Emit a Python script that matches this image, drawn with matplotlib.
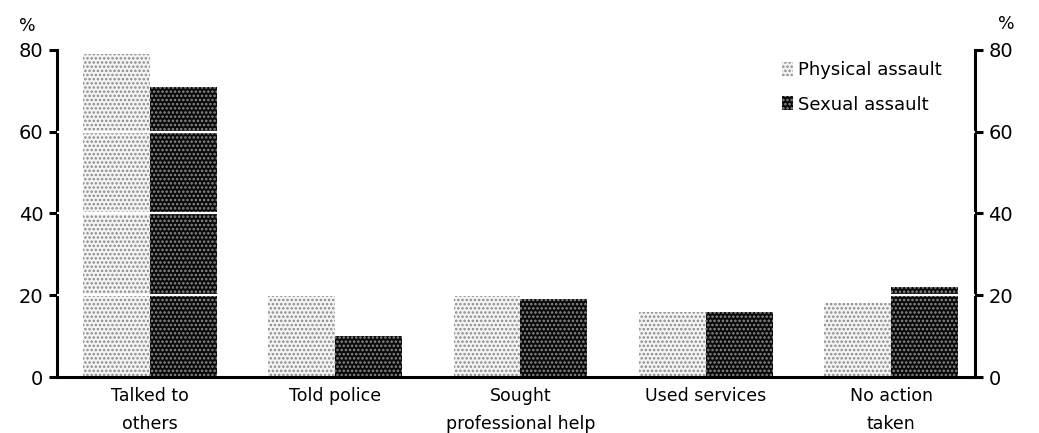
import matplotlib
matplotlib.use("Agg")
import matplotlib.pyplot as plt
import numpy as np

plt.rcParams['font.family'] = ['DejaVu Sans']
plt.rcParams['hatch.linewidth'] = 1.2

categories = ["Talked to\nothers", "Told police", "Sought\nprofessional help", "Used services", "No action\ntaken"]
physical = [79, 20, 20, 16, 18]
sexual = [71, 10, 19, 16, 22]
yticks = [0, 20, 40, 60, 80]

fig = plt.figure(figsize=(10.39, 4.33), dpi=100)
ax = fig.add_axes([0.055, 0.129, 0.883, 0.756])

x = np.arange(len(categories))
w = 0.36
ax.bar(x - w/2, physical, w, facecolor='#f4f4f4', edgecolor='#8a8a8a', hatch='....', linewidth=0, label='Physical assault', zorder=2)
ax.bar(x + w/2, sexual, w, facecolor='#0a0a0a', edgecolor='#8c8c8c', hatch='....', linewidth=0, label='Sexual assault', zorder=2)

for yv in [20, 40, 60]:
    ax.axhline(yv, color='white', lw=1.6, zorder=3)

ax.set_xlim(-0.5, 4.45)
ax.set_ylim(0, 80)
ax.set_yticks(yticks)
ax.set_xticks(x)
ax.set_xticklabels(categories, fontsize=12.5, linespacing=1.7)
ax.tick_params(axis='x', length=0, pad=7)
ax.tick_params(axis='y', labelsize=14, width=2.2, length=6, direction='out', labelright=True, right=True, pad=4)

ax.spines['top'].set_visible(False)
for s in ['left', 'right', 'bottom']:
    ax.spines[s].set_linewidth(2.2)

ax.text(-0.033, 1.045, '%', transform=ax.transAxes, fontsize=12.5, ha='center', va='bottom')
ax.text(1.035, 1.05, '%', transform=ax.transAxes, fontsize=12.5, ha='center', va='bottom')

ax.legend(loc='upper left', bbox_to_anchor=(0.79, 0.965), frameon=False, fontsize=13,
          handlelength=0.6, handleheight=0.8, handletextpad=0.3, labelspacing=0.9,
          borderpad=0, borderaxespad=0)

fig.savefig('out.png', dpi=100)
